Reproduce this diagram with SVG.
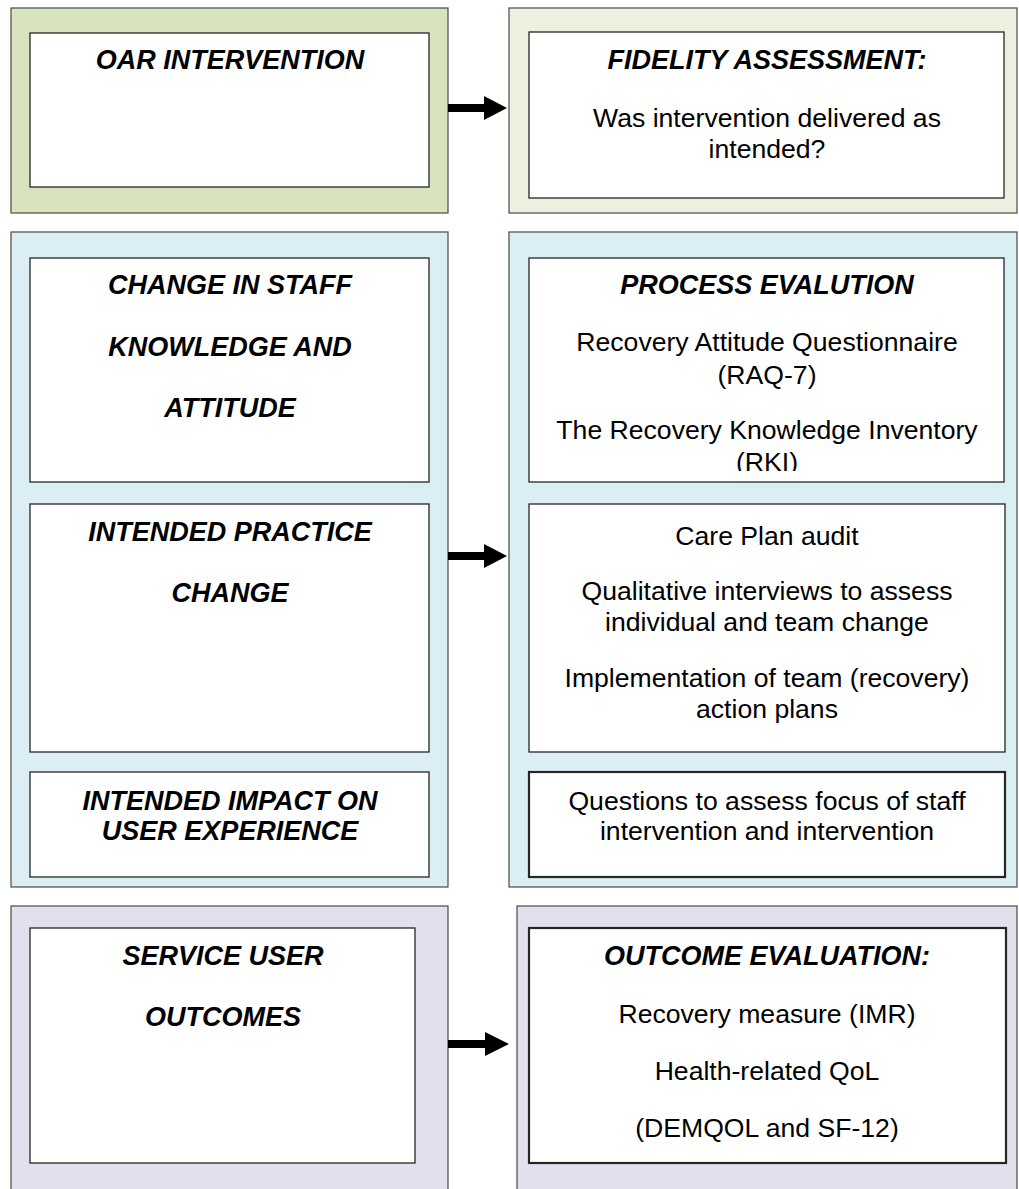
<svg xmlns="http://www.w3.org/2000/svg" width="1019" height="1189" viewBox="0 0 1019 1189">
<style>
.outer{stroke:#4a4a4a;stroke-width:1.2}
.g1{fill:#d7e4bd}
.g2{fill:#ebf1de}
.b{fill:#dbeef3}
.p{fill:#e4dfec}
.inner{fill:#ffffff;stroke:#262626;stroke-width:1.3}
.thick{stroke-width:2.2}
.h{font-family:"Liberation Sans",Arial,sans-serif;font-size:27px;font-weight:bold;font-style:italic;fill:#000;text-anchor:middle}
.t{font-family:"Liberation Sans",Arial,sans-serif;font-size:26.6px;fill:#000;text-anchor:middle}
.arrow{fill:#000}
</style>
<defs>
<clipPath id="clipRKI"><rect x="529" y="258" width="475" height="213"/></clipPath>
</defs>
<rect width="1019" height="1189" fill="#ffffff"/>

<g id="row1-left">
<rect class="outer g1" x="11" y="8" width="437" height="205"/>
<rect class="inner" x="30" y="33" width="399" height="154"/>
<text class="h" x="230" y="69">OAR INTERVENTION</text>
</g>

<g id="row1-right">
<rect class="outer g2" x="509" y="8" width="508" height="205"/>
<rect class="inner" x="529" y="32" width="475" height="166"/>
<text class="h" x="767" y="69">FIDELITY ASSESSMENT:</text>
<text class="t" x="767" y="127">Was intervention delivered as</text>
<text class="t" x="767" y="158">intended?</text>
</g>

<g id="row2-left">
<rect class="outer b" x="11" y="232" width="437" height="655"/>
<g id="staff-knowledge">
<rect class="inner" x="30" y="258" width="399" height="224"/>
<text class="h" x="230" y="294">CHANGE IN STAFF</text>
<text class="h" x="230" y="356">KNOWLEDGE AND</text>
<text class="h" x="230" y="417">ATTITUDE</text>
</g>
<g id="practice-change">
<rect class="inner" x="30" y="504" width="399" height="248"/>
<text class="h" x="230" y="541">INTENDED PRACTICE</text>
<text class="h" x="230" y="602">CHANGE</text>
</g>
<g id="user-experience">
<rect class="inner" x="30" y="772" width="399" height="105"/>
<text class="h" x="230" y="810">INTENDED IMPACT ON</text>
<text class="h" x="230" y="840">USER EXPERIENCE</text>
</g>
</g>

<g id="row2-right">
<rect class="outer b" x="509" y="232" width="508" height="655"/>
<g id="process-evaluation">
<rect class="inner" x="529" y="258" width="475" height="224"/>
<text class="h" x="767" y="294">PROCESS EVALUTION</text>
<text class="t" x="767" y="351">Recovery Attitude Questionnaire</text>
<text class="t" x="767" y="384">(RAQ-7)</text>
<text class="t" x="767" y="439">The Recovery Knowledge Inventory</text>
<text class="t" x="767" y="471" clip-path="url(#clipRKI)">(RKI)</text>
</g>
<g id="practice-measures">
<rect class="inner" x="529" y="504" width="476" height="248"/>
<text class="t" x="767" y="545">Care Plan audit</text>
<text class="t" x="767" y="600">Qualitative interviews to assess</text>
<text class="t" x="767" y="631">individual and team change</text>
<text class="t" x="767" y="687">Implementation of team (recovery)</text>
<text class="t" x="767" y="718">action plans</text>
</g>
<g id="experience-measures">
<rect class="inner thick" x="529" y="772" width="476" height="105"/>
<text class="t" x="767" y="810">Questions to assess focus of staff</text>
<text class="t" x="767" y="840">intervention and intervention</text>
</g>
</g>

<g id="row3-left">
<rect class="outer p" x="11" y="906" width="437" height="290"/>
<rect class="inner" x="30" y="928" width="385" height="235"/>
<text class="h" x="223" y="965">SERVICE USER</text>
<text class="h" x="223" y="1026">OUTCOMES</text>
</g>

<g id="row3-right">
<rect class="outer p" x="517" y="906" width="500" height="290"/>
<rect class="inner thick" x="529" y="928" width="477" height="235"/>
<text class="h" x="767" y="965">OUTCOME EVALUATION:</text>
<text class="t" x="767" y="1023">Recovery measure (IMR)</text>
<text class="t" x="767" y="1080">Health-related QoL</text>
<text class="t" x="767" y="1137">(DEMQOL and SF-12)</text>
</g>

<g id="connectors">
<path class="arrow" d="M448,104 H484 V96 L507,108 L484,120 V112 H448 Z"/>
<path class="arrow" d="M448,552 H484 V544 L507,556 L484,568 V560 H448 Z"/>
<path class="arrow" d="M448,1040 H485 V1032 L509,1044 L485,1056 V1048 H448 Z"/>
</g>
</svg>
